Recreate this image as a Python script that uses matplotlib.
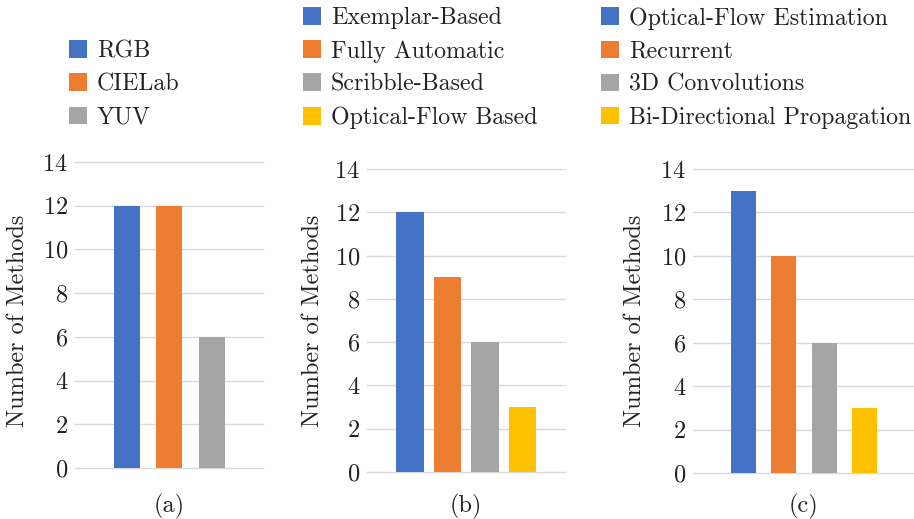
import matplotlib
matplotlib.use("Agg")
import matplotlib.pyplot as plt

plt.rcParams['font.family'] = ['cmr10', 'DejaVu Serif']
plt.rcParams['mathtext.fontset'] = 'cm'
plt.rcParams['axes.formatter.use_mathtext'] = True

# (a) colour spaces
space_labels = ['RGB', 'CIELab', 'YUV']
space_counts = [12, 12, 6]

# (b) image colorization approaches
image_labels = ['Exemplar-Based', 'Fully Automatic', 'Scribble-Based', 'Optical-Flow Based']
image_counts = [12, 9, 6, 3]

# (c) video propagation approaches
video_labels = ['Optical-Flow Estimation', 'Recurrent', '3D Convolutions', 'Bi-Directional Propagation']
video_counts = [13, 10, 6, 3]

panel_names = ['(a)', '(b)', '(c)']
colors = ['#4472C4', '#ED7D31', '#A5A5A5', '#FFC000']

W, H = 914, 519
fig = plt.figure(figsize=(W / 100, H / 100), dpi=100)


def px_axes(left, top, right, bottom):
    return fig.add_axes([left / W, 1 - bottom / H, (right - left) / W, (bottom - top) / H])


# pixel boxes: left, top(=14), right, bottom(=0)
boxes = [(75, 162, 263, 468), (367, 169, 565, 472), (693, 169, 914, 473)]
bar_w = [0.61, 0.74, 0.62]
xlims = [(-1.22, 3.2), (-1.14, 4.13), (-1.25, 4.23)]
legend_x = [69, 303, 601]
legend_y = [84.5, 68, 68]
ylab_x = [29, 324, 646]

data = [(space_labels, space_counts), (image_labels, image_counts), (video_labels, video_counts)]

for i, (labels, counts) in enumerate(data):
    l, t, r, b = boxes[i]
    ax = px_axes(l, t, r, b)
    handles = []
    for j, (lab, val) in enumerate(zip(labels, counts)):
        h = ax.bar(j, val, width=bar_w[i], color=colors[j], label=lab, zorder=3)
        handles.append(h)
    ax.set_ylim(0, 14)
    ax.set_xlim(*xlims[i])
    ax.set_yticks(range(0, 15, 2))
    ax.set_xticks([])
    ax.tick_params(axis='y', length=0, pad=5, labelsize=17.5, colors='#222222')
    for s in ax.spines.values():
        s.set_visible(False)
    ax.yaxis.grid(True, color='#D9D9D9', linewidth=1.0)
    ax.set_axisbelow(True)
    for gl in ax.get_ygridlines():
        gl.set_clip_on(False)
    ax.set_ylabel('Number of Methods', fontsize=17.5, color='#222222')
    ax.yaxis.set_label_coords((ylab_x[i] - l) / (r - l), (b - 321) / (b - t))
    ax.set_xlabel(panel_names[i], fontsize=17.5, color='#222222')
    ax.xaxis.set_label_coords(0.5, (b - 494) / (b - t))

    fig.legend(handles, labels, loc='center left',
               bbox_to_anchor=(legend_x[i] / W, 1 - legend_y[i] / H),
               frameon=False, fontsize=17.2, borderpad=0, borderaxespad=0,
               handlelength=0.76, handleheight=0.76, handletextpad=0.4,
               labelspacing=0.46, labelcolor='#222222')

fig.savefig('out.png', dpi=100)
